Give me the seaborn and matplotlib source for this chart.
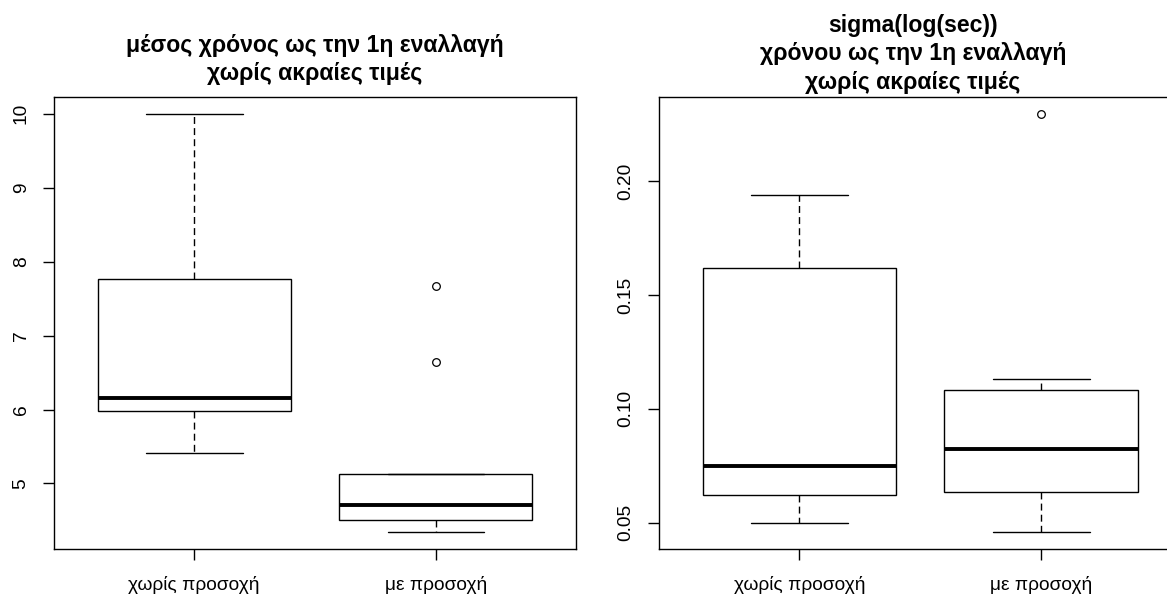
import numpy as np
import pandas as pd
import matplotlib
matplotlib.use("Agg")
import matplotlib.pyplot as plt
import seaborn as sns

groups = ["χωρίς προσοχή", "με προσοχή"]

# mean time to 1st switch, extreme values removed
mean_no_attention = [5.41, 5.98, 6.16, 7.77, 10.00]
mean_attention = [4.34, 4.42, 4.50, 4.61, 4.71, 4.90, 5.13, 6.64, 7.67]

# sigma(log(sec)) of time to 1st switch
sigma_no_attention = [0.0500, 0.0622, 0.0749, 0.1619, 0.1941]
sigma_attention = [0.0458, 0.0550, 0.0636, 0.0720, 0.0823, 0.0950, 0.1081, 0.1133, 0.2296]

titles = ["μέσος χρόνος ως την 1η εναλλαγή\nχωρίς ακραίες τιμές",
          "sigma(log(sec))\nχρόνου ως την 1η εναλλαγή\nχωρίς ακραίες τιμές"]
yticks_left = [5, 6, 7, 8, 9, 10]
yticks_right = [0.05, 0.10, 0.15, 0.20]
ytick_labels_right = ["0.05", "0.10", "0.15", "0.20"]


def long_frame(a, b):
    return pd.DataFrame({
        "group": [groups[0]] * len(a) + [groups[1]] * len(b),
        "value": list(a) + list(b),
    })


sns.set_theme(style="ticks")
plt.rcParams["font.family"] = ["Liberation Sans", "DejaVu Sans"]
plt.rcParams["axes.edgecolor"] = "black"
plt.rcParams["axes.linewidth"] = 1.0
plt.rcParams["text.color"] = "black"

W, H = 1167, 595
fig = plt.figure(figsize=(W / 100, H / 100), dpi=100)
ax1 = fig.add_axes([54 / W, 46 / H, 522 / W, 452 / H])
ax2 = fig.add_axes([659 / W, 46 / H, 508 / W, 452 / H])

box_kw = dict(
    x="group", y="value", order=groups, width=0.8, color="white",
    linecolor="black", linewidth=1.0, saturation=1, whis=1.5,
    medianprops=dict(linewidth=2.8, color="black"),
    whiskerprops=dict(linestyle=(0, (5, 3))),
    flierprops=dict(marker="o", markerfacecolor="none",
                    markeredgecolor="black", markersize=5.5,
                    markeredgewidth=0.9),
)

panels = [
    (ax1, long_frame(mean_no_attention, mean_attention), yticks_left,
     [str(t) for t in yticks_left], (-0.58, 1.58), 12),
    (ax2, long_frame(sigma_no_attention, sigma_attention), yticks_right,
     ytick_labels_right, (-0.58, 1.52), 6),
]

for (ax, df, yt, ytl, xlim, tpad), title in zip(panels, titles):
    sns.boxplot(data=df, ax=ax, **box_kw)
    lo, hi = df["value"].min(), df["value"].max()
    pad = 0.04 * (hi - lo)
    ax.set_ylim(lo - pad, hi + pad)
    ax.set_xlim(*xlim)
    ax.set_yticks(yt)
    ax.set_yticklabels(ytl)
    ax.set_xlabel("")
    ax.set_ylabel("")
    ax.tick_params(axis="both", direction="out", length=8, width=1.0,
                   color="black", labelsize=13.8, labelcolor="black")
    ax.tick_params(axis="y", pad=9.5)
    ax.tick_params(axis="x", pad=11.5)
    for lab in ax.get_yticklabels():
        lab.set_rotation(90)
        lab.set_verticalalignment("center")
        lab.set_horizontalalignment("right")
    for sp in ax.spines.values():
        sp.set_visible(True)
        sp.set_color("black")
    ax.set_title(title, fontsize=16.6, fontweight="bold", pad=tpad,
                 linespacing=1.3, color="black")

ax2.spines["right"].set_visible(False)

fig.savefig("out.png", dpi=100, facecolor="white")
